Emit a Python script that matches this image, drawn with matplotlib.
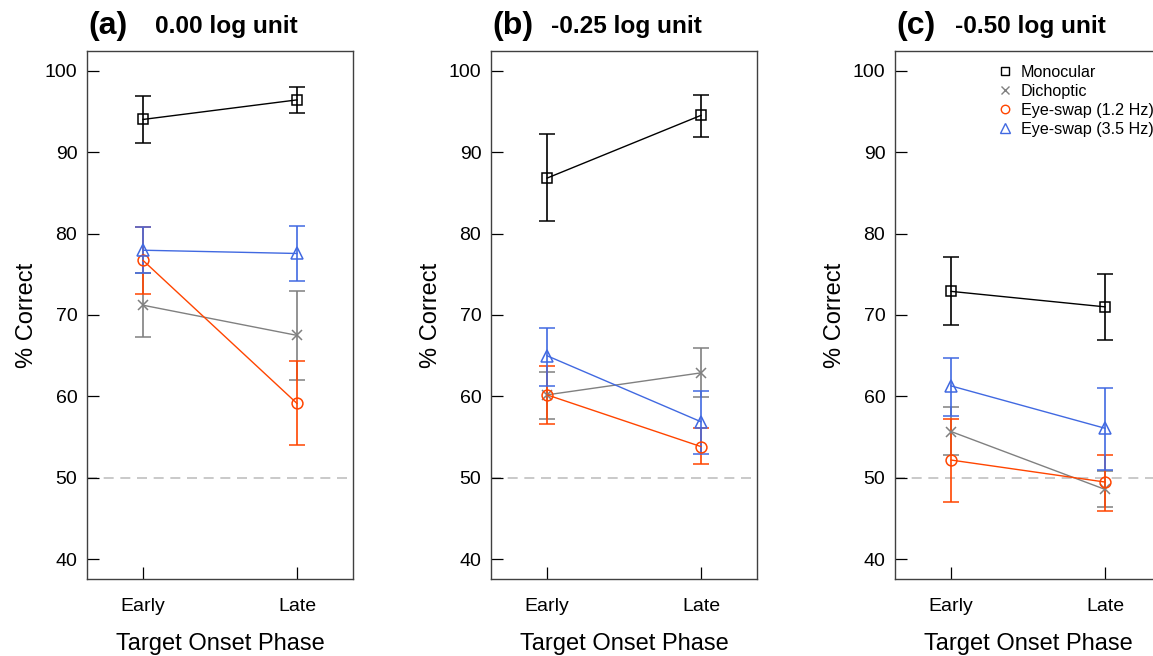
import matplotlib
matplotlib.use("Agg")
import matplotlib.pyplot as plt
from matplotlib.lines import Line2D

plt.rcParams['font.family'] = ['Liberation Sans', 'DejaVu Sans']

phases = ["Early", "Late"]
panel_tags = ["(a)", "(b)", "(c)"]
panel_titles = ["0.00 log unit", "-0.25 log unit", "-0.50 log unit"]
series_names = ["Monocular", "Dichoptic", "Eye-swap (1.2 Hz)", "Eye-swap (3.5 Hz)"]

mono_mean = [[94.0, 96.4], [86.8, 94.5], [72.9, 71.0]]
mono_upper = [[96.9, 97.95], [92.2, 97.05], [77.15, 75.05]]
mono_lower = [[91.05, 94.8], [81.5, 91.9], [68.8, 66.9]]

dich_mean = [[71.2, 67.5], [60.2, 62.9], [55.7, 48.6]]
dich_upper = [[75.2, 73.0], [63.0, 65.9], [58.7, 50.9]]
dich_lower = [[67.25, 62.05], [57.2, 59.9], [52.8, 46.4]]

swap12_mean = [[76.7, 59.15], [60.2, 53.85], [52.2, 49.5]]
swap12_upper = [[80.85, 64.3], [63.7, 56.1], [57.2, 52.8]]
swap12_lower = [[72.6, 54.0], [56.6, 51.7], [47.1, 46.0]]

swap35_mean = [[77.95, 77.55], [65.0, 56.9], [61.3, 56.1]]
swap35_upper = [[80.85, 80.9], [68.4, 60.7], [64.7, 61.0]]
swap35_lower = [[75.1, 74.2], [61.3, 52.9], [57.6, 51.0]]

chance_level = 50

styles = [
    dict(color="black", marker="s", ms=7.3),
    dict(color="#808080", marker="x", ms=7.5),
    dict(color="#FF4500", marker="o", ms=7.8),
    dict(color="#4169E1", marker="^", ms=8.8),
]
all_series = [
    (mono_mean, mono_upper, mono_lower),
    (dich_mean, dich_upper, dich_lower),
    (swap12_mean, swap12_upper, swap12_lower),
    (swap35_mean, swap35_upper, swap35_lower),
]

W, H = 1153, 656
fig = plt.figure(figsize=(W / 100, H / 100), dpi=100)

ax_left_px = [87, 491, 895]
ax_w_px = 266
ax_top_px, ax_bot_px = 51, 579

xs = [1, 2]
for p in range(3):
    l = ax_left_px[p]
    ax = fig.add_axes([l / W, (H - ax_bot_px) / H, ax_w_px / W, (ax_bot_px - ax_top_px) / H])
    ax.axhline(chance_level, color="#C0C0C0", lw=1.2, ls=(0, (6, 4)), zorder=1)
    for (mean, up, lo), st in zip(all_series, styles):
        m = mean[p]
        yerr = [[m[i] - lo[p][i] for i in range(2)], [up[p][i] - m[i] for i in range(2)]]
        ax.errorbar(xs, m, yerr=yerr, color=st["color"], lw=1.0, elinewidth=1.2,
                    capsize=6, capthick=1.2, marker=st["marker"], ms=st["ms"],
                    mfc="none", mec=st["color"], mew=1.1, zorder=3)
    ax.set_xlim(0.636, 2.364)
    ax.set_ylim(37.6, 102.4)
    ax.set_xticks(xs)
    ax.set_xticklabels(phases)
    ax.set_yticks(range(40, 101, 10))
    ax.tick_params(direction="in", length=8.6, width=0.9, labelsize=14, colors="black")
    ax.tick_params(axis="x", pad=14)
    ax.tick_params(axis="y", pad=7)
    for s in ax.spines.values():
        s.set_color("#404040")
        s.set_linewidth(1.0)
    ax.set_xlabel("Target Onset Phase", fontsize=17, labelpad=12.5)
    ax.set_ylabel("% Correct", fontsize=17, labelpad=5)
    fig.text((l + 1) / W, 1 - 26 / H, panel_tags[p], fontsize=23, fontweight="bold",
             va="center", ha="left")
    fig.text((l + 211) / W, 1 - 26 / H, panel_titles[p], fontsize=17.6, fontweight="bold",
             va="center", ha="right")
    if p == 2:
        handles = [Line2D([], [], ls="none", marker=st["marker"], color=st["color"],
                          mfc="none", mec=st["color"], ms=st["ms"] * 0.78, mew=1.0)
                   for st in styles]
        ax.legend(handles, series_names, loc="upper left",
                  bbox_to_anchor=((999 - l) / ax_w_px, (ax_bot_px - 65) / (ax_bot_px - ax_top_px)),
                  frameon=False, fontsize=11.6, handlelength=0.8, handletextpad=0.55,
                  labelspacing=0.25, borderpad=0, borderaxespad=0)

fig.savefig("out.png", dpi=100)
